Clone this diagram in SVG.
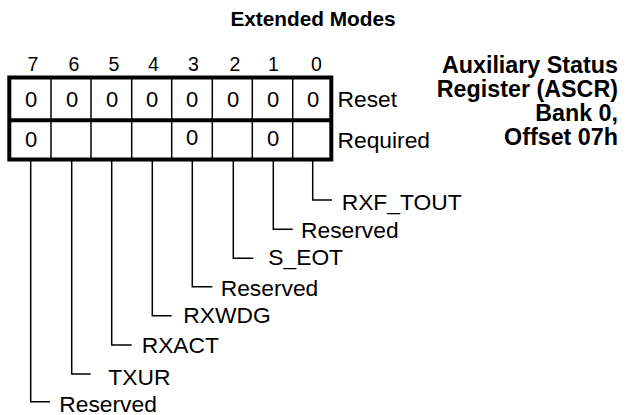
<svg xmlns="http://www.w3.org/2000/svg" width="634" height="415" viewBox="0 0 634 415">
<style>
text { font-family: "Liberation Sans", Arial, sans-serif; fill: #000; }
.title { font-size: 20.8px; font-weight: bold; text-anchor: middle; }
.reg { font-size: 23.3px; font-weight: bold; text-anchor: end; }
.bitn { font-size: 19.5px; text-anchor: middle; }
.val { font-size: 22px; text-anchor: middle; }
.lbl { font-size: 22.8px; }
.thick { fill: none; stroke: #000; stroke-width: 4; }
.thin { fill: none; stroke: #000; stroke-width: 1.5; }
</style>
<rect width="634" height="415" fill="#fff"/>
<g id="title">
<text class="title" x="313" y="26">Extended Modes</text>
</g>
<g id="register-name">
<text class="reg" x="618" y="72.5">Auxiliary Status</text>
<text class="reg" x="618" y="96.7">Register (ASCR)</text>
<text class="reg" x="618" y="120.7">Bank 0,</text>
<text class="reg" x="618" y="144.5">Offset 07h</text>
</g>
<g id="bit-numbers">
<text class="bitn" x="33" y="70.7">7</text>
<text class="bitn" x="74" y="70.7">6</text>
<text class="bitn" x="114" y="70.7">5</text>
<text class="bitn" x="153.5" y="70.7">4</text>
<text class="bitn" x="193.5" y="70.7">3</text>
<text class="bitn" x="235" y="70.7">2</text>
<text class="bitn" x="273.5" y="70.7">1</text>
<text class="bitn" x="316.5" y="70.7">0</text>
</g>
<g id="register-box">
<g class="thin">
<line x1="51" y1="77" x2="51" y2="160"/>
<line x1="91" y1="77" x2="91" y2="160"/>
<line x1="131.7" y1="77" x2="131.7" y2="160"/>
<line x1="171.7" y1="77" x2="171.7" y2="160"/>
<line x1="212.3" y1="77" x2="212.3" y2="160"/>
<line x1="252.3" y1="77" x2="252.3" y2="160"/>
<line x1="292.7" y1="77" x2="292.7" y2="160"/>
</g>
<rect class="thick" x="9.3" y="77.5" width="322" height="82"/>
<line class="thick" x1="9.3" y1="120.3" x2="331.3" y2="120.3"/>
</g>
<g id="reset-row">
<text class="val" x="31" y="106.7">0</text>
<text class="val" x="72" y="106.7">0</text>
<text class="val" x="112" y="106.7">0</text>
<text class="val" x="152" y="106.7">0</text>
<text class="val" x="192" y="106.7">0</text>
<text class="val" x="233" y="106.7">0</text>
<text class="val" x="273" y="106.7">0</text>
<text class="val" x="313" y="106.7">0</text>
<text class="lbl" x="337.5" y="107.3">Reset</text>
</g>
<g id="required-row">
<text class="val" x="31" y="146.5">0</text>
<text class="val" x="192" y="145">0</text>
<text class="val" x="273" y="146">0</text>
<text class="lbl" x="337.5" y="148">Required</text>
</g>
<g id="connectors" class="thin">
<polyline points="312.7,161 312.7,200 332,200"/>
<polyline points="273.3,161 273.3,229.3 292.7,229.3"/>
<polyline points="233.3,161 233.3,258.3 253.3,258.3"/>
<polyline points="192.3,161 192.3,286.7 212.3,286.7"/>
<polyline points="152.3,161 152.3,315.7 171.7,315.7"/>
<polyline points="111.7,161 111.7,345 131.7,345"/>
<polyline points="71.7,161 71.7,374 90.7,374"/>
<polyline points="30.7,161 30.7,401.7 50,401.7"/>
</g>
<g id="bit0"><text class="lbl" x="341.7" y="210">RXF_TOUT</text></g>
<g id="bit1"><text class="lbl" x="301" y="238.3">Reserved</text></g>
<g id="bit2"><text class="lbl" x="268.3" y="265">S_EOT</text></g>
<g id="bit3"><text class="lbl" x="220.7" y="296">Reserved</text></g>
<g id="bit4"><text class="lbl" x="183.3" y="323.3">RXWDG</text></g>
<g id="bit5"><text class="lbl" x="141.7" y="352.7">RXACT</text></g>
<g id="bit6"><text class="lbl" x="108.3" y="385">TXUR</text></g>
<g id="bit7"><text class="lbl" x="59.3" y="411.5">Reserved</text></g>
</svg>
